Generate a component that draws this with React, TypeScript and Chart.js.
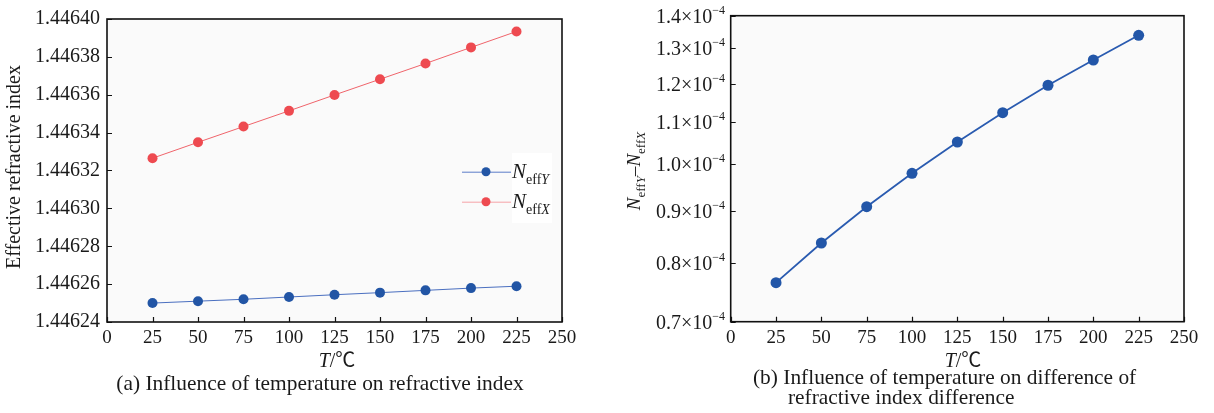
import React, { useEffect, useRef } from "react";
import { Chart, registerables } from "chart.js";

Chart.register(...registerables);

// ---------- data ----------
const temperatures = [25, 50, 75, 100, 125, 150, 175, 200, 225];
const nEffY = [1.44625, 1.446251, 1.446252, 1.4462532, 1.4462544, 1.4462555, 1.4462567, 1.4462579, 1.4462589];
const nEffX = [1.4463265, 1.4463349, 1.4463432, 1.4463515, 1.4463599, 1.4463682, 1.4463765, 1.446385, 1.4463934];
const diffValues = [0.7647e-4, 0.8366e-4, 0.9083e-4, 0.9797e-4, 1.0517e-4, 1.1239e-4, 1.1959e-4, 1.2663e-4, 1.3393e-4];
const xTicks = [0, 25, 50, 75, 100, 125, 150, 175, 200, 225, 250];
const leftYTicks = [1.44624, 1.44626, 1.44628, 1.4463, 1.44632, 1.44634, 1.44636, 1.44638, 1.4464];
const rightYMantissas = [0.7, 0.8, 0.9, 1.0, 1.1, 1.2, 1.3, 1.4];
const rightYExponent = -4;

const SERIF = "'Liberation Serif', 'Noto Sans CJK SC', serif";
const TEXT = "#1a1a1a";

type Run = { t: string; font: string; dy?: number };

function runsWidth(ctx: CanvasRenderingContext2D, runs: Run[]) {
  let w = 0;
  for (const r of runs) {
    ctx.font = r.font;
    w += ctx.measureText(r.t).width;
  }
  return w;
}

function drawRuns(ctx: CanvasRenderingContext2D, runs: Run[], x: number, y: number, align: "left" | "center" | "right") {
  ctx.textBaseline = "alphabetic";
  ctx.textAlign = "left";
  const total = runsWidth(ctx, runs);
  let cx = align === "center" ? x - total / 2 : align === "right" ? x - total : x;
  for (const r of runs) {
    ctx.font = r.font;
    ctx.fillText(r.t, cx, y + (r.dy || 0));
    cx += ctx.measureText(r.t).width;
  }
}

const frameAndTicks = {
  id: "frameAndTicks",
  beforeDatasetsDraw(chart: any) {
    const { ctx, chartArea: a } = chart;
    ctx.save();
    ctx.fillStyle = "#fafafa";
    ctx.fillRect(a.left, a.top, a.right - a.left, a.bottom - a.top);
    ctx.restore();
  },
  afterDatasetsDraw(chart: any) {
    const { ctx, chartArea: a } = chart;
    const xs = chart.scales.x;
    const ys = chart.scales.y;
    ctx.save();
    ctx.strokeStyle = "#111";
    ctx.lineWidth = 1.2;
    ctx.beginPath();
    for (const t of xTicks) {
      const px = Math.round(xs.getPixelForValue(t)) + 0.5;
      ctx.moveTo(px, a.bottom);
      ctx.lineTo(px, a.bottom - 5);
    }
    for (const tk of ys.ticks) {
      const py = Math.round(ys.getPixelForValue(tk.value)) + 0.5;
      ctx.moveTo(a.left, py);
      ctx.lineTo(a.left + 5, py);
    }
    ctx.stroke();
    ctx.lineWidth = 1.6;
    ctx.strokeRect(a.left, a.top, a.right - a.left, a.bottom - a.top);
    ctx.restore();
  },
};

const leftText = {
  id: "leftText",
  afterDraw(chart: any) {
    const ctx: CanvasRenderingContext2D = chart.ctx;
    ctx.save();
    ctx.fillStyle = TEXT;
    // y title
    ctx.save();
    ctx.translate(15, 167);
    ctx.rotate(-Math.PI / 2);
    ctx.font = `20px ${SERIF}`;
    ctx.textAlign = "center";
    ctx.textBaseline = "middle";
    ctx.fillText("Effective refractive index", 0, 0);
    ctx.restore();
    // x title
    drawRuns(ctx, [
      { t: "T", font: `italic 20px ${SERIF}` },
      { t: "/℃", font: `20px ${SERIF}` },
    ], 337, 367, "center");
    // caption
    drawRuns(ctx, [{ t: "(a) Influence of temperature on refractive index", font: `21.4px ${SERIF}` }], 320, 390, "center");
    // legend
    ctx.fillStyle = "#ffffff";
    ctx.fillRect(512, 153, 40, 70);
    const entries = [
      { y: 171.7, line: "#5a7bc8", dot: "#2255a5", sub: "Y" },
      { y: 201.7, line: "#f5a3a7", dot: "#ee4a50", sub: "X" },
    ];
    for (const e of entries) {
      ctx.strokeStyle = e.line;
      ctx.lineWidth = 1;
      ctx.beginPath();
      ctx.moveTo(462, e.y + 0.5);
      ctx.lineTo(511, e.y + 0.5);
      ctx.stroke();
      ctx.fillStyle = e.dot;
      ctx.beginPath();
      ctx.arc(486, e.y, 4.5, 0, Math.PI * 2);
      ctx.fill();
      ctx.fillStyle = TEXT;
      drawRuns(ctx, [
        { t: "N", font: `italic 21px ${SERIF}` },
        { t: "eff", font: `14px ${SERIF}`, dy: 5.5 },
        { t: e.sub, font: `italic 14px ${SERIF}`, dy: 5.5 },
      ], 512, e.y + 6.5, "left");
    }
    ctx.restore();
  },
};

const rightText = {
  id: "rightText",
  afterDraw(chart: any) {
    const ctx: CanvasRenderingContext2D = chart.ctx;
    const ys = chart.scales.y;
    ctx.save();
    ctx.fillStyle = TEXT;
    // y tick labels with superscript
    for (const m of rightYMantissas) {
      const py = ys.getPixelForValue(m * Math.pow(10, rightYExponent));
      drawRuns(ctx, [
        { t: `${m.toFixed(1)}×10`, font: `20px ${SERIF}` },
        { t: `−${Math.abs(rightYExponent)}`, font: `12px ${SERIF}`, dy: -9 },
      ], 125, py + 7, "right");
    }
    // y title
    ctx.save();
    ctx.translate(40, 171);
    ctx.rotate(-Math.PI / 2);
    drawRuns(ctx, [
      { t: "N", font: `italic 19px ${SERIF}` },
      { t: "eff", font: `13px ${SERIF}`, dy: 5 },
      { t: "Y", font: `italic 13px ${SERIF}`, dy: 5 },
      { t: "–", font: `19px ${SERIF}` },
      { t: "N", font: `italic 19px ${SERIF}` },
      { t: "eff", font: `13px ${SERIF}`, dy: 5 },
      { t: "X", font: `italic 13px ${SERIF}`, dy: 5 },
    ], 0, 0, "center");
    ctx.restore();
    // x title
    drawRuns(ctx, [
      { t: "T", font: `italic 20px ${SERIF}` },
      { t: "/℃", font: `20px ${SERIF}` },
    ], 363, 367, "center");
    // caption
    drawRuns(ctx, [{ t: "(b) Influence of temperature on difference of", font: `21.4px ${SERIF}` }], 153, 384, "left");
    drawRuns(ctx, [{ t: "refractive index difference", font: `21.4px ${SERIF}` }], 188, 404, "left");
    ctx.restore();
  },
};

function xScale(height: number) {
  return {
    type: "linear",
    min: 0,
    max: 250,
    afterBuildTicks: (s: any) => {
      s.ticks = xTicks.map((v) => ({ value: v }));
    },
    afterFit: (s: any) => {
      s.height = height;
    },
    grid: { display: false, drawTicks: false },
    border: { display: false },
    ticks: { color: TEXT, font: { family: SERIF, size: 19 }, padding: 5, maxRotation: 0, autoSkip: false },
  };
}

export default function App() {
  const leftRef = useRef<HTMLCanvasElement | null>(null);
  const rightRef = useRef<HTMLCanvasElement | null>(null);

  useEffect(() => {
    const leftChart = new Chart(leftRef.current as HTMLCanvasElement, {
      type: "line",
      data: {
        datasets: [
          {
            label: "NeffY",
            data: temperatures.map((t, i) => ({ x: t, y: nEffY[i] })),
            borderColor: "#4a6fc0",
            backgroundColor: "#2255a5",
            borderWidth: 1,
            pointRadius: 5,
            pointBorderWidth: 0,
            pointBackgroundColor: "#2255a5",
          },
          {
            label: "NeffX",
            data: temperatures.map((t, i) => ({ x: t, y: nEffX[i] })),
            borderColor: "#f0646b",
            backgroundColor: "#ee4a50",
            borderWidth: 1,
            pointRadius: 5,
            pointBorderWidth: 0,
            pointBackgroundColor: "#ee4a50",
          },
        ],
      },
      options: {
        responsive: false,
        animation: false,
        layout: { padding: { left: 0, right: 38, top: 15, bottom: 0 } },
        plugins: { legend: { display: false }, tooltip: { enabled: false } },
        scales: {
          x: xScale(91) as any,
          y: {
            type: "linear",
            min: 1.44624,
            max: 1.4464,
            afterBuildTicks: (s: any) => {
              s.ticks = leftYTicks.map((v) => ({ value: v }));
            },
            afterFit: (s: any) => {
              s.width = 107;
            },
            grid: { display: false, drawTicks: false },
            border: { display: false },
            ticks: {
              color: TEXT,
              font: { family: SERIF, size: 20 },
              padding: 7,
              callback: (v: any) => Number(v).toFixed(5),
            },
          },
        },
      },
      plugins: [frameAndTicks, leftText],
    } as any);

    const rightChart = new Chart(rightRef.current as HTMLCanvasElement, {
      type: "line",
      data: {
        datasets: [
          {
            label: "NeffY-NeffX",
            data: temperatures.map((t, i) => ({ x: t, y: diffValues[i] })),
            borderColor: "#2a5bb0",
            backgroundColor: "#2256a8",
            borderWidth: 1.8,
            pointRadius: 5.5,
            pointBorderWidth: 0,
            pointBackgroundColor: "#2256a8",
          },
        ],
      },
      options: {
        responsive: false,
        animation: false,
        layout: { padding: { left: 0, right: 30, top: 15.7, bottom: 0 } },
        plugins: { legend: { display: false }, tooltip: { enabled: false } },
        scales: {
          x: xScale(91.3) as any,
          y: {
            type: "logarithmic",
            min: 0.7e-4,
            max: 1.4e-4,
            afterBuildTicks: (s: any) => {
              s.ticks = rightYMantissas.map((m) => ({ value: m * Math.pow(10, rightYExponent) }));
            },
            afterFit: (s: any) => {
              s.width = 130.7;
            },
            grid: { display: false, drawTicks: false },
            border: { display: false },
            ticks: { display: false },
          },
        },
      },
      plugins: [frameAndTicks, rightText],
    } as any);

    return () => {
      leftChart.destroy();
      rightChart.destroy();
    };
  }, []);

  return (
    <div style={{ position: "absolute", left: 0, top: 0, width: 1214, height: 413, background: "#ffffff" }}>
      <canvas
        ref={leftRef}
        width={600}
        height={413}
        style={{ position: "absolute", left: 0, top: 0, width: 600, height: 413 }}
      />
      <canvas
        ref={rightRef}
        width={614}
        height={413}
        style={{ position: "absolute", left: 600, top: 0, width: 614, height: 413 }}
      />
    </div>
  );
}
